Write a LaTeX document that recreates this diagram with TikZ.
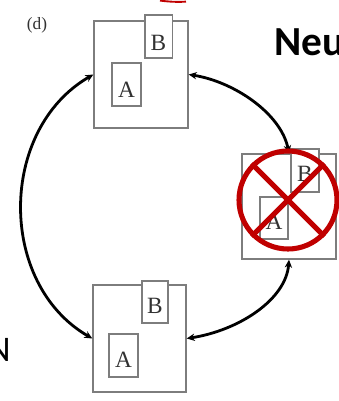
\documentclass[tikz,border=0pt]{standalone}
\usepackage{fontspec}
\setmainfont{Liberation Serif}
\newfontfamily\calib{Carlito}
\usetikzlibrary{arrows.meta}
\definecolor{boxgray}{RGB}{125,125,125}
\definecolor{lettergray}{RGB}{50,50,50}
\definecolor{crossred}{RGB}{192,0,0}
\tikzset{
  outerbox/.style={draw=boxgray, line width=1pt, fill=white, inner sep=0pt, minimum width=70.5pt, minimum height=80.25pt},
  innerbox/.style={draw=boxgray, line width=1pt, fill=white, inner sep=0pt, minimum width=20.5pt, minimum height=32.25pt},
  letter/.style={anchor=base, inner sep=0pt, text=lettergray, font=\fontsize{17.5}{17.5}\selectfont},
  dblarrow/.style={line width=2.1pt, {Stealth[length=6pt,width=5.5pt]}-{Stealth[length=6pt,width=5.5pt]}},
  crossline/.style={draw=crossred, line width=3.8pt}
}
\begin{document}
\begin{tikzpicture}[x=0.75pt,y=-0.75pt]
\useasboundingbox (0,0) rectangle (339,401);
\clip (0,0) rectangle (339,401);
% labels
\node[anchor=center, inner sep=0pt, text=lettergray, font=\fontsize{13}{13}\selectfont] (lbl) at (37,25) {(d)};
\node[anchor=base west, inner sep=0pt, font=\calib\bfseries\fontsize{31}{31}\selectfont] (neu) at (274,55) {Neu};
\node[anchor=base east, inner sep=0pt, font=\calib\fontsize{27}{27}\selectfont] (leftn) at (11,361) {N};
% red arc at the top edge
\draw[crossred, line width=1.4pt] (160,0.6) .. controls (170,1.8) and (178,2.2) .. (186,1.6);
% boxes
\node[outerbox] (top) at (141,74.5) {};
\node[innerbox] (topB) at (158.5,36.5) {};
\node[innerbox, minimum width=21.75pt] (topA) at (126.5,84.5) {};
\node[letter] (topBl) at (158.5,50) {B};
\node[letter] (topAl) at (126.5,97) {A};

\node[outerbox, minimum height=78.75pt] (right) at (289,206.5) {};
\node[innerbox, minimum width=21pt] (rightB) at (305,170.5) {};
\node[innerbox, minimum width=21pt, minimum height=31.5pt] (rightA) at (274,218) {};
\node[letter] (rightBl) at (305,181) {B};
\node[letter] (rightAl) at (274,229) {A};

\node[outerbox, minimum width=69.75pt] (bot) at (139.5,338.5) {};
\node[innerbox, minimum width=19.5pt, minimum height=31.5pt] (botB) at (155,302) {};
\node[innerbox, minimum width=21.75pt] (botA) at (123.5,355.5) {};
\node[letter] (botBl) at (155,313) {B};
\node[letter] (botAl) at (123.5,367) {A};
% arrows
\draw[dblarrow] (top.west) .. controls +(-95,55) and +(-95,-55) .. (bot.west);
\draw[dblarrow] (top.east) .. controls +(45,7) and +(-8,-40) .. (right.north);
\draw[dblarrow] (right.south) .. controls +(-3,40) and +(52,-8) .. (bot.east);
% red cross-out
\node[circle, draw=crossred, line width=3.8pt, minimum size=73.5pt, inner sep=0pt] (nope) at (288,200) {};
\draw[crossline] (nope.135) -- (nope.-45);
\draw[crossline] (nope.45) -- (nope.-135);
\end{tikzpicture}
\end{document}
